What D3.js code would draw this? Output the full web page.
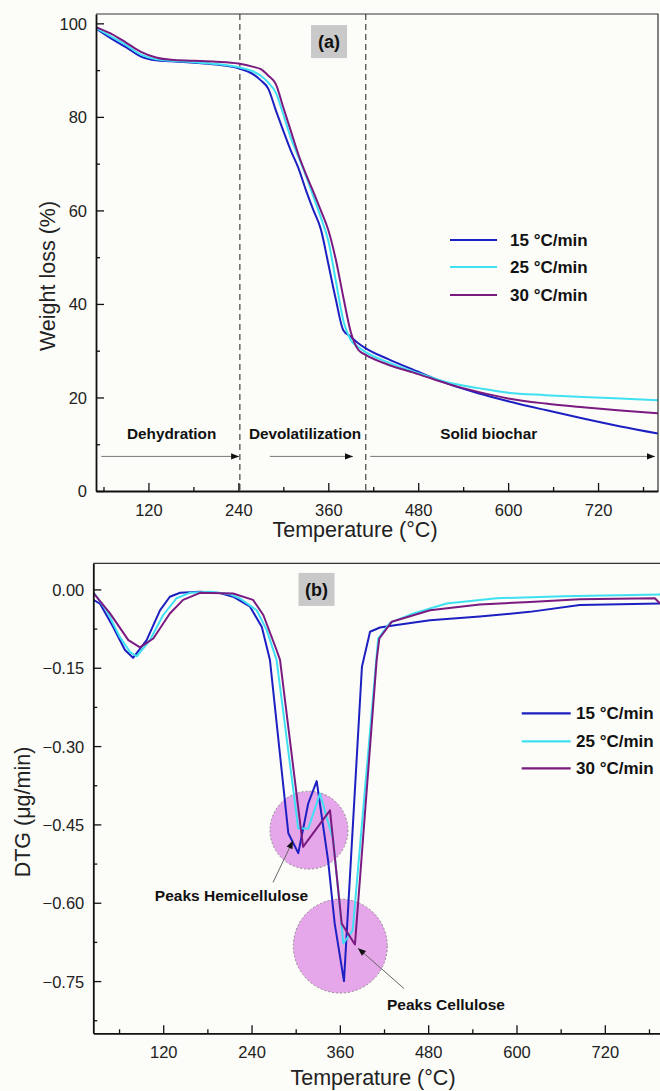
<!DOCTYPE html>
<html>
<head>
<meta charset="utf-8">
<script src="https://cdn.jsdelivr.net/npm/d3@7"></script>
<style>
  body { margin: 0; background: #fcfcf8; }
  svg { display: block; font-family: "Liberation Sans", Arial, sans-serif; }
</style>
</head>
<body>
<div id="chart"></div>
<script>
// ---- data ----
const seriesNames = ["15 °C/min", "25 °C/min", "30 °C/min"];

// (a) weight loss, common temperature grid
const tgTemp = [50, 70, 90, 110, 130, 150, 180, 210, 240, 260, 270, 280, 290, 300, 310, 320, 330, 340, 350, 360,
  370, 380, 390, 400, 410, 440, 480, 520, 560, 600, 650, 700, 750, 800];
const tg15 = [98.9, 96.8, 94.9, 92.9, 92.1, 91.9, 91.6, 91.2, 90.4, 89.1, 87.8, 86.0, 81.4, 77.0, 72.8, 69.1, 64.4, 60.1, 56.0, 48.6,
  41.0, 34.4, 33.0, 31.6, 30.5, 28.2, 25.5, 22.9, 20.9, 19.2, 17.3, 15.5, 13.8, 12.3];
const tg25 = [99.0, 97.2, 95.4, 93.3, 92.3, 92.0, 91.7, 91.3, 90.6, 89.7, 88.8, 87.3, 85.2, 80.5, 75.5, 71.5, 67.5, 63.0, 58.5, 53.5,
  45.0, 36.5, 32.3, 30.8, 29.7, 27.5, 25.2, 23.2, 22.0, 21.0, 20.5, 20.1, 19.8, 19.4];
const tg30 = [99.2, 97.8, 95.9, 93.9, 92.7, 92.2, 92.0, 91.8, 91.4, 90.7, 90.2, 88.8, 87.0, 82.0, 77.0, 72.0, 67.8, 64.0, 60.0, 55.8,
  49.5, 41.5, 34.0, 30.2, 29.1, 27.0, 25.0, 22.9, 21.2, 19.8, 18.7, 17.9, 17.2, 16.6];

// (b) DTG, each series has its own temperature points
const dtgT15 = [25, 34, 52, 68, 79, 97.5, 115.6, 129, 143, 170, 197, 215, 238, 254, 265, 290, 303.5, 317, 328.5, 344,
  353, 365.6, 390, 401, 414.5, 437, 482.5, 550, 618, 686, 795];
const dtg15 = [-0.020, -0.027, -0.072, -0.116, -0.131, -0.097, -0.040, -0.014, -0.0065, -0.0046, -0.007, -0.014, -0.033, -0.072, -0.135,
  -0.467, -0.505, -0.410, -0.367, -0.519, -0.640, -0.750, -0.148, -0.081, -0.073, -0.068, -0.059, -0.052, -0.043, -0.030, -0.027];
const dtgT25 = [25, 43, 61, 75, 84, 102, 120, 138, 156, 183.5, 210, 224, 247, 260.6, 274, 303.5, 317, 333, 351, 364.7,
  377.4, 412, 428, 460, 505, 573, 664, 795];
const dtg25 = [-0.005, -0.040, -0.091, -0.120, -0.128, -0.097, -0.049, -0.017, -0.0065, -0.0046, -0.009, -0.017, -0.040, -0.078, -0.135,
  -0.458, -0.458, -0.391, -0.480, -0.678, -0.653, -0.094, -0.064, -0.046, -0.027, -0.017, -0.013, -0.0096];
const dtgT30 = [25, 47.7, 72.6, 88.5, 106.5, 129, 147, 170, 215, 242, 256, 274, 278.7, 310, 346.6, 362.5, 380.5, 410, 413.6, 430.4,
  482.5, 550, 618, 686, 788, 795];
const dtg30 = [-0.0065, -0.046, -0.097, -0.111, -0.094, -0.046, -0.020, -0.0065, -0.0077, -0.020, -0.049, -0.116, -0.135, -0.493, -0.423,
  -0.640, -0.680, -0.135, -0.094, -0.062, -0.040, -0.029, -0.024, -0.019, -0.017, -0.027];

const xMajor = [120, 240, 360, 480, 600, 720];
const xMinor = [60, 180, 300, 420, 540, 660, 780];
const tgMajor = [0, 20, 40, 60, 80, 100];
const tgMinor = [10, 30, 50, 70, 90];
const dtgMajor = [0, -0.15, -0.30, -0.45, -0.60, -0.75];
const dtgMinor = [-0.075, -0.225, -0.375, -0.525, -0.675, -0.825];

const colors = ["#1c20c2", "#3fe0f2", "#7a1a80"];

// ---- setup ----
const svg = d3.select("#chart").append("svg").attr("width", 660).attr("height", 1091);
svg.append("rect").attr("width", 660).attr("height", 1091).attr("fill", "#fcfcf8");

const defs = svg.append("defs");
defs.append("marker")
  .attr("id", "head")
  .attr("viewBox", "0 0 10 10")
  .attr("refX", 10).attr("refY", 5)
  .attr("markerWidth", 10).attr("markerHeight", 8)
  .attr("markerUnits", "userSpaceOnUse")
  .attr("orient", "auto")
  .append("path").attr("d", "M0,1 L10,5 L0,9 Z").attr("fill", "#111");

// Draw frame, ticks, tick labels and titles of one panel
function drawAxes(x, y, cfg) {
  const [x0, x1] = x.range();
  const [y0, y1] = y.range();

  // top / right frame
  svg.append("path")
    .attr("d", `M${x0},${y1} H${x1} V${y0}`)
    .attr("fill", "none").attr("stroke", "#333").attr("stroke-width", 1.2);

  svg.append("g").attr("transform", `translate(0,${y0})`)
    .call(d3.axisBottom(x).tickValues(xMajor).tickSize(-8).tickSizeOuter(0).tickPadding(13).tickFormat(d3.format("d")));
  svg.append("g").attr("transform", `translate(0,${y0})`)
    .call(d3.axisBottom(x).tickValues(xMinor).tickSize(-4).tickSizeOuter(0).tickFormat(""))
    .call(g => g.select(".domain").remove());

  const yAxisG = svg.append("g").attr("transform", `translate(${x0},0)`);
  yAxisG.call(d3.axisLeft(y).tickValues(cfg.yMajor).tickSize(-8).tickSizeOuter(0).tickPadding(9).tickFormat(cfg.yFormat));
  svg.append("g").attr("transform", `translate(${x0},0)`)
    .call(d3.axisLeft(y).tickValues(cfg.yMinor).tickSize(-4).tickSizeOuter(0).tickFormat(""))
    .call(g => g.select(".domain").remove());

  svg.selectAll(".domain").attr("stroke", "#111").attr("stroke-width", 1.8);
  svg.selectAll(".tick line").attr("stroke", "#111").attr("stroke-width", 1.3);
  svg.selectAll(".tick text").attr("font-size", 16.5).attr("fill", "#222")
    .attr("font-family", "'Liberation Sans', Arial, sans-serif");
  yAxisG.selectAll(".tick text").attr("dy", "0.36em");

  svg.append("text")
    .attr("x", cfg.xTitleX)
    .attr("y", y0 + cfg.xTitleDy)
    .attr("text-anchor", "middle")
    .attr("font-size", 21.5).attr("fill", "#222")
    .text("Temperature (°C)");

  svg.append("text")
    .attr("transform", `translate(${cfg.titleX},${cfg.titleY}) rotate(-90)`)
    .attr("text-anchor", "middle")
    .attr("font-size", 21.5).attr("fill", "#222")
    .text(cfg.title);
}

function drawLines(x, y, temps, vals, clipId, curve) {
  const [x0, x1] = x.range();
  const [y0, y1] = y.range();
  defs.append("clipPath").attr("id", clipId)
    .append("rect").attr("x", x0).attr("y", y1).attr("width", x1 - x0).attr("height", y0 - y1);
  const g = svg.append("g").attr("clip-path", `url(#${clipId})`);
  vals.forEach((v, k) => {
    const pts = temps[k].map((t, i) => [t, v[i]]);
    g.append("path")
      .datum(pts)
      .attr("fill", "none")
      .attr("stroke", colors[k])
      .attr("stroke-width", 2)
      .attr("stroke-linejoin", "round")
      .attr("d", d3.line().x(d => x(d[0])).y(d => y(d[1])).curve(curve));
  });
}

function drawLegend(xl, xr, xt, ys) {
  seriesNames.forEach((name, k) => {
    svg.append("line").attr("x1", xl).attr("x2", xr).attr("y1", ys[k]).attr("y2", ys[k])
      .attr("stroke", colors[k]).attr("stroke-width", 2.2);
    svg.append("text").attr("x", xt).attr("y", ys[k] + 6)
      .attr("font-size", 17).attr("font-weight", "bold").attr("fill", "#111")
      .text(name);
  });
}

function panelTag(cx, cy, label) {
  svg.append("rect").attr("x", cx - 18).attr("y", cy - 16.5).attr("width", 36).attr("height", 33).attr("fill", "#c9c9c9");
  svg.append("text").attr("x", cx).attr("y", cy + 6.5).attr("text-anchor", "middle")
    .attr("font-size", 18).attr("font-weight", "bold").attr("fill", "#111").text(label);
}

// ---- panel (a) ----
const tgX = d3.scaleLinear().domain([50, 800]).range([96, 658]);
const tgY = d3.scaleLinear().domain([0, 102]).range([491, 14]);

// phase boundaries
[242, 410].forEach(t => {
  svg.append("line")
    .attr("x1", tgX(t)).attr("x2", tgX(t)).attr("y1", tgY(102)).attr("y2", tgY(0))
    .attr("stroke", "#444").attr("stroke-width", 1.2).attr("stroke-dasharray", "6,4");
});

drawLines(tgX, tgY, [tgTemp, tgTemp, tgTemp], [tg15, tg25, tg30], "clipA", d3.curveMonotoneX);

// phase arrows and labels
const phases = [
  { label: "Dehydration", mid: 151, from: 57, to: 241 },
  { label: "Devolatilization", mid: 329, from: 282, to: 393 },
  { label: "Solid biochar", mid: 574, from: 416, to: 796 },
];
phases.forEach(p => {
  svg.append("line")
    .attr("x1", tgX(p.from)).attr("x2", tgX(p.to)).attr("y1", tgY(7.4)).attr("y2", tgY(7.4))
    .attr("stroke", "#777").attr("stroke-width", 1).attr("marker-end", "url(#head)");
  svg.append("text")
    .attr("x", tgX(p.mid)).attr("y", tgY(11.1))
    .attr("text-anchor", "middle").attr("font-size", 15.3).attr("font-weight", "bold").attr("fill", "#111")
    .text(p.label);
});

drawAxes(tgX, tgY, {
  yMajor: tgMajor, yMinor: tgMinor, yFormat: d3.format("d"),
  title: "Weight loss (%)", titleX: 55, titleY: 276, xTitleX: 355, xTitleDy: 46
});
drawLegend(450, 497, 510, [240, 267, 295]);
panelTag(tgX(361), tgY(96.1), "(a)");

// ---- panel (b) ----
const dtgX = d3.scaleLinear().domain([25, 800]).range([93.3, 663.7]);
const dtgY = d3.scaleLinear().domain([-0.85, 0.05]).range([1033.3, 563.3]);

// highlighted peak regions
const peakZones = [
  { t: 318, v: -0.461, r: 39 },
  { t: 360.6, v: -0.683, r: 47 },
];
peakZones.forEach(z => {
  svg.append("circle")
    .attr("cx", dtgX(z.t)).attr("cy", dtgY(z.v)).attr("r", z.r)
    .attr("fill", "#e6a6ea").attr("stroke", "#777").attr("stroke-width", 0.8).attr("stroke-dasharray", "2,2");
});

drawLines(dtgX, dtgY, [dtgT15, dtgT25, dtgT30], [dtg15, dtg25, dtg30], "clipB", d3.curveLinear);

const peakNotes = [
  { label: "Peaks Hemicellulose", tx: 212.8, ty: -0.597, from: [269.2, -0.561], to: [296.3, -0.481] },
  { label: "Peaks Cellulose", tx: 504.2, ty: -0.806, from: [447, -0.764], to: [384.6, -0.687] },
];
peakNotes.forEach(n => {
  svg.append("line")
    .attr("x1", dtgX(n.from[0])).attr("y1", dtgY(n.from[1]))
    .attr("x2", dtgX(n.to[0])).attr("y2", dtgY(n.to[1]))
    .attr("stroke", "#666").attr("stroke-width", 1).attr("marker-end", "url(#head)");
  svg.append("text")
    .attr("x", dtgX(n.tx)).attr("y", dtgY(n.ty))
    .attr("text-anchor", "middle").attr("font-size", 15.5).attr("font-weight", "bold").attr("fill", "#111")
    .text(n.label);
});

drawAxes(dtgX, dtgY, {
  yMajor: dtgMajor, yMinor: dtgMinor, yFormat: d => d === 0 ? "0.00" : "−" + Math.abs(d).toFixed(2),
  title: "DTG (μg/min)", titleX: 30, titleY: 812, xTitleX: 373, xTitleDy: 52
});
drawLegend(521.7, 570.7, 576, [713.3, 741.3, 768.3]);
panelTag(dtgX(328.3), dtgY(0.0), "(b)");
</script>
</body>
</html>
